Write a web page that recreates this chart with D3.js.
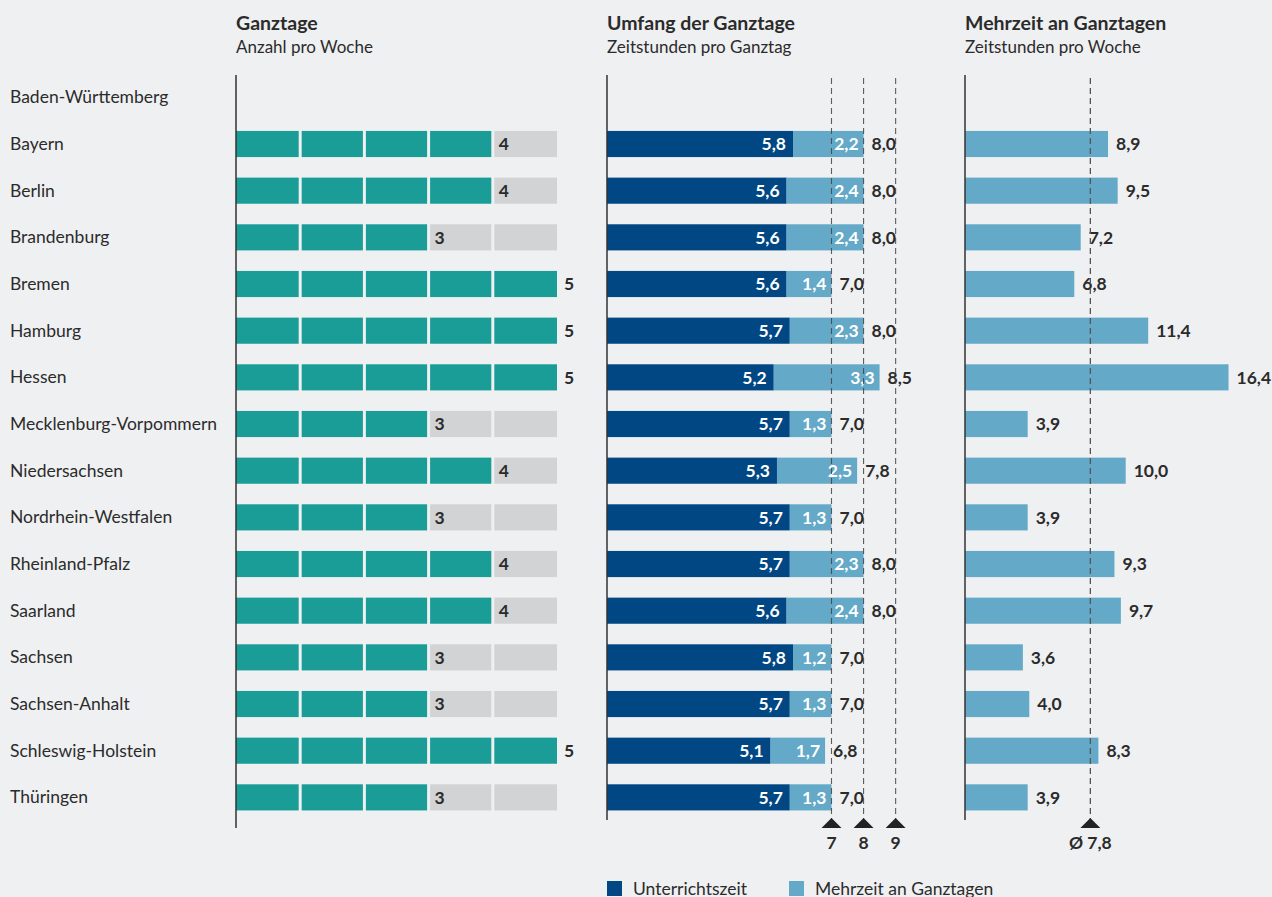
<!DOCTYPE html>
<html><head><meta charset="utf-8">
<script src="https://cdn.jsdelivr.net/npm/d3@7"></script>
<style>
html,body{margin:0;padding:0;background:#eff0f2;}
svg{display:block;font-family:Lato,"Open Sans",sans-serif;}
</style></head>
<body><svg id="c" width="1272" height="897"></svg>
<script>
const states = ["Baden-Württemberg","Bayern","Berlin","Brandenburg","Bremen","Hamburg","Hessen","Mecklenburg-Vorpommern","Niedersachsen","Nordrhein-Westfalen","Rheinland-Pfalz","Saarland","Sachsen","Sachsen-Anhalt","Schleswig-Holstein","Thüringen"];
const ganztage = [null,4,4,3,5,5,5,3,4,3,4,4,3,3,5,3];
const unterricht = [null,5.8,5.6,5.6,5.6,5.7,5.2,5.7,5.3,5.7,5.7,5.6,5.8,5.7,5.1,5.7];
const mehrzeitTag = [null,2.2,2.4,2.4,1.4,2.3,3.3,1.3,2.5,1.3,2.3,2.4,1.2,1.3,1.7,1.3];
const umfang = [null,8.0,8.0,8.0,7.0,8.0,8.5,7.0,7.8,7.0,8.0,8.0,7.0,7.0,6.8,7.0];
const mehrzeitWoche = [null,8.9,9.5,7.2,6.8,11.4,16.4,3.9,10.0,3.9,9.3,9.7,3.6,4.0,8.3,3.9];
const refHours = [7,8,9];
const avgWoche = 7.8;
const legendLabels = ["Unterrichtszeit","Mehrzeit an Ganztagen"];

const C = {teal:"#1b9d97", gray:"#d2d3d5", dark:"#004783", light:"#64a9c8", text:"#2b2b2b", bg:"#eff0f2"};
const FS = 17.5;
const fmt = v => v.toFixed(1).replace(".", ",");
const svg = d3.select("#c");

const y = d3.scaleBand().domain(states).range([74, 820.7]).paddingInner(0.44).paddingOuter(0.22);
const bh = y.bandwidth();

// row labels
svg.append("g").selectAll("text").data(states).join("text")
  .attr("x", 10).attr("y", d => y(d) + bh/2).attr("dy","0.35em")
  .attr("font-size", FS).attr("fill", C.text).text(d => d);

function title(x, t, s){
  svg.append("text").attr("x",x).attr("y",30).attr("font-size",19.5).attr("font-weight",700).attr("fill",C.text).text(t);
  svg.append("text").attr("x",x).attr("y",53).attr("font-size",17).attr("fill",C.text).text(s);
}
title(236,"Ganztage","Anzahl pro Woche");
title(607,"Umfang der Ganztage","Zeitstunden pro Ganztag");
title(965,"Mehrzeit an Ganztagen","Zeitstunden pro Woche");

// Panel 1
const x1 = d3.scaleLinear().domain([0,5]).range([236,557]);
const p1 = svg.append("g");
states.forEach((s,i)=>{
  const v = ganztage[i]; if (v==null) return;
  const days = d3.range(5);
  p1.append("g").selectAll("rect").data(days).join("rect")
    .attr("x", d => x1(d) + (d>0?1.5:0)).attr("y", y(s))
    .attr("width", d => x1(d+1)-x1(d) - (d>0?1.5:0) - (d<4?1.5:0)).attr("height", bh)
    .attr("fill", d => d < v ? C.teal : C.gray);
  p1.append("text").attr("x", v<5 ? x1(v)+6 : x1(5)+7).attr("y", y(s)+bh/2).attr("dy","0.36em")
    .attr("font-size",FS).attr("font-weight",700).attr("fill",C.text).text(v);
});
svg.append("line").attr("x1",236).attr("x2",236).attr("y1",75).attr("y2",828).attr("stroke","#333").attr("stroke-width",1.5);

// Panel 2
const x2 = d3.scaleLinear().domain([0,1]).range([607,607+32.07]);
const p2 = svg.append("g");
states.forEach((s,i)=>{
  if (unterricht[i]==null) return;
  const u = unterricht[i], m = mehrzeitTag[i];
  p2.append("rect").attr("x",x2(0)).attr("y",y(s)).attr("width",x2(u)-x2(0)).attr("height",bh).attr("fill",C.dark);
  p2.append("rect").attr("x",x2(u)).attr("y",y(s)).attr("width",x2(u+m)-x2(u)).attr("height",bh).attr("fill",C.light);
  p2.append("text").attr("x",x2(u)-7).attr("y",y(s)+bh/2).attr("dy","0.36em").attr("text-anchor","end")
    .attr("font-size",FS).attr("font-weight",700).attr("fill","#fff").text(fmt(u));
  p2.append("text").attr("x",x2(u+m)-5).attr("y",y(s)+bh/2).attr("dy","0.36em").attr("text-anchor","end")
    .attr("font-size",FS).attr("font-weight",700).attr("fill","#fff").text(fmt(m));
  p2.append("text").attr("x",x2(u+m)+8).attr("y",y(s)+bh/2).attr("dy","0.36em")
    .attr("font-size",FS).attr("font-weight",700).attr("fill",C.text).text(fmt(umfang[i]));
});
p2.selectAll("line.ref").data(refHours).join("line").attr("class","ref")
  .attr("x1",d=>x2(d)).attr("x2",d=>x2(d)).attr("y1",78).attr("y2",820)
  .attr("stroke","#444").attr("stroke-width",1.1).attr("stroke-dasharray","6,4").attr("opacity",0.85);
p2.selectAll("path.tri").data(refHours).join("path").attr("class","tri")
  .attr("d", d => `M${x2(d)-10},828 L${x2(d)},818 L${x2(d)+10},828 Z`).attr("fill","#222");
p2.selectAll("text.tl").data(refHours).join("text").attr("class","tl")
  .attr("x",d=>x2(d)).attr("y",849).attr("text-anchor","middle")
  .attr("font-size",FS).attr("font-weight",700).attr("fill",C.text).text(d=>d);
svg.append("line").attr("x1",607).attr("x2",607).attr("y1",75).attr("y2",820).attr("stroke","#333").attr("stroke-width",1.5);

// Panel 3
const x3 = d3.scaleLinear().domain([0,1]).range([965,965+16.07]);
const p3 = svg.append("g");
states.forEach((s,i)=>{
  const v = mehrzeitWoche[i]; if (v==null) return;
  p3.append("rect").attr("x",x3(0)).attr("y",y(s)).attr("width",x3(v)-x3(0)).attr("height",bh).attr("fill",C.light);
  p3.append("text").attr("x",x3(v)+8).attr("y",y(s)+bh/2).attr("dy","0.36em")
    .attr("font-size",FS).attr("font-weight",700).attr("fill",C.text).text(fmt(v));
});
p3.append("line").attr("x1",x3(avgWoche)).attr("x2",x3(avgWoche)).attr("y1",78).attr("y2",820)
  .attr("stroke","#555").attr("stroke-width",1.3).attr("stroke-dasharray","6,4");
p3.append("path").attr("d",`M${x3(avgWoche)-10},828 L${x3(avgWoche)},818 L${x3(avgWoche)+10},828 Z`).attr("fill","#222");
p3.append("text").attr("x",x3(avgWoche)).attr("y",849).attr("text-anchor","middle")
  .attr("font-size",FS).attr("font-weight",700).attr("fill",C.text).text("Ø " + fmt(avgWoche));
svg.append("line").attr("x1",965).attr("x2",965).attr("y1",75).attr("y2",820).attr("stroke","#333").attr("stroke-width",1.5);

// Legend
const lg = svg.append("g");
const lx = [607, 789];
legendLabels.forEach((t,i)=>{
  lg.append("rect").attr("x",lx[i]).attr("y",881).attr("width",15).attr("height",15).attr("fill", i==0?C.dark:C.light);
  lg.append("text").attr("x",lx[i]+26).attr("y",895).attr("font-size",17.5).attr("fill",C.text).text(t);
});
</script></body></html>
